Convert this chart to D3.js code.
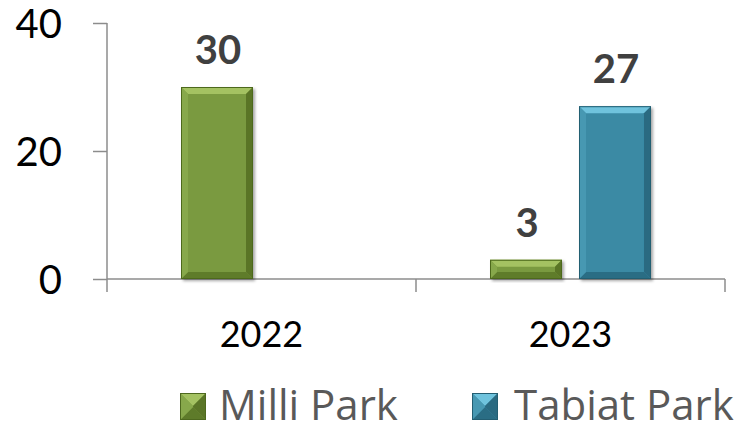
<!DOCTYPE html>
<html><head><meta charset="utf-8">
<script src="https://cdn.jsdelivr.net/npm/d3@7"></script>
<style>html,body{margin:0;padding:0;background:#fff;}svg{display:block;}</style>
</head><body>
<svg id="chart" width="736" height="426"></svg>
<script>
const years = ["2022", "2023"];
const seriesNames = ["Milli Park", "Tabiat Parkı"];
const milliPark = [30, 3];
const tabiatParki = [null, 27];
const yTicks = [0, 20, 40];

const palette = {
  "Milli Park": {mid:"#7a9a3f", top:"#a4c262", bottom:"#5e7b2a", left:"#87a84b", right:"#5a7527", border:"#4e691f"},
  "Tabiat Parkı": {mid:"#3a8aa4", top:"#6fc3dd", bottom:"#2a6d84", left:"#4798b2", right:"#2a6a81", border:"#235e72"}
};
const FONT = "Lato, 'Open Sans', sans-serif";
const LEGEND_FONT = "'Open Sans', Lato, sans-serif";

const svg = d3.select("#chart");
const defs = svg.append("defs");
const f = defs.append("filter").attr("id","shadow").attr("x","-20%").attr("y","-20%").attr("width","140%").attr("height","140%");
f.append("feDropShadow").attr("dx",2).attr("dy",2).attr("stdDeviation",1.8).attr("flood-color","#000").attr("flood-opacity",0.35);

const y = d3.scaleLinear().domain([0, 40]).range([279, 23]);
const x0 = d3.scaleBand().domain(years).range([107, 725]).padding(0);
const x1 = d3.scaleBand().domain(seriesNames).range([0, x0.bandwidth()]).paddingInner(0.191).paddingOuter(0.8315);

const rows = years.map((yr, i) => ({year: yr, values: [
  {name: seriesNames[0], value: milliPark[i]},
  {name: seriesNames[1], value: tabiatParki[i]}
]}));

function bevel(g, x, yy, w, h, c, full) {
  const b = full ? Math.min(w, h) / 2 : Math.min(7, h / 2, w / 2);
  const grp = g.append("g").attr("filter", full ? null : "url(#shadow)");
  grp.append("rect").attr("x", x).attr("y", yy).attr("width", w).attr("height", h).attr("fill", c.mid);
  const pts = {
    top: [[x,yy],[x+w,yy],[x+w-b,yy+b],[x+b,yy+b]],
    bottom: [[x,yy+h],[x+w,yy+h],[x+w-b,yy+h-b],[x+b,yy+h-b]],
    left: [[x,yy],[x+b,yy+b],[x+b,yy+h-b],[x,yy+h]],
    right: [[x+w,yy],[x+w-b,yy+b],[x+w-b,yy+h-b],[x+w,yy+h]]
  };
  Object.keys(pts).forEach(k => {
    grp.append("polygon").attr("points", pts[k].map(p => p.join(",")).join(" ")).attr("fill", c[k]);
  });
  grp.append("rect").attr("x", x+0.5).attr("y", yy+0.5).attr("width", w-1).attr("height", h-1)
    .attr("fill","none").attr("stroke", c.border).attr("stroke-width", 1);
}

// Axes
const axisColor = "#8c8c8c";
const yAxis = d3.axisLeft(y).tickValues(yTicks).tickSize(14).tickFormat(d3.format("d"));
const gy = svg.append("g").attr("transform", "translate(107,0)").call(yAxis);
gy.select(".domain").attr("stroke", axisColor).attr("stroke-width", 1.5).attr("d", `M0,${y(40)}V${y(0)+13}`);
gy.selectAll(".tick line").attr("stroke", axisColor).attr("stroke-width", 1.5);
gy.selectAll(".tick text").attr("x", -45).attr("dy", null).attr("y", 14.5)
  .attr("font-family", FONT).attr("font-size", 40).attr("fill", "#000").attr("text-anchor", "end");

const xAxisG = svg.append("g").attr("transform", `translate(0,${y(0)})`);
xAxisG.append("line").attr("x1", 107).attr("x2", 725).attr("stroke", axisColor).attr("stroke-width", 1.5);
const boundaries = years.map(d => x0(d)).concat([x0(years[years.length-1]) + x0.bandwidth()]);
xAxisG.selectAll("line.xt").data(boundaries.slice(1)).join("line").attr("class","xt")
  .attr("x1", d => d).attr("x2", d => d).attr("y1", 0).attr("y2", 13).attr("stroke", axisColor).attr("stroke-width", 1.5);
xAxisG.selectAll("text").data(years).join("text")
  .attr("x", d => x0(d) + x0.bandwidth() / 2).attr("y", 68)
  .attr("text-anchor", "middle").attr("font-family", FONT).attr("font-size", 36).attr("fill", "#000")
  .text(d => d);

// Bars
rows.forEach(r => {
  r.values.forEach(v => {
    if (v.value == null) return;
    const bx = x0(r.year) + x1(v.name);
    const by = y(v.value);
    bevel(svg, bx, by, x1.bandwidth(), y(0) - by, palette[v.name], false);
    svg.append("text").attr("x", bx + x1.bandwidth() / 2 + 1).attr("y", by - 23)
      .attr("text-anchor", "middle").attr("font-family", FONT).attr("font-weight", "bold")
      .attr("font-size", 40).attr("fill", "#404040").text(v.value);
  });
});

// Legend
const legendPos = [{sq: 180, tx: 219}, {sq: 472, tx: 514}];
seriesNames.forEach((n, i) => {
  bevel(svg, legendPos[i].sq, 393, 26, 27, palette[n], true);
  svg.append("text").attr("x", legendPos[i].tx).attr("y", 420)
    .attr("font-family", LEGEND_FONT).attr("font-size", 42).attr("fill", "#595959").text(n);
});
</script>
</body></html>
